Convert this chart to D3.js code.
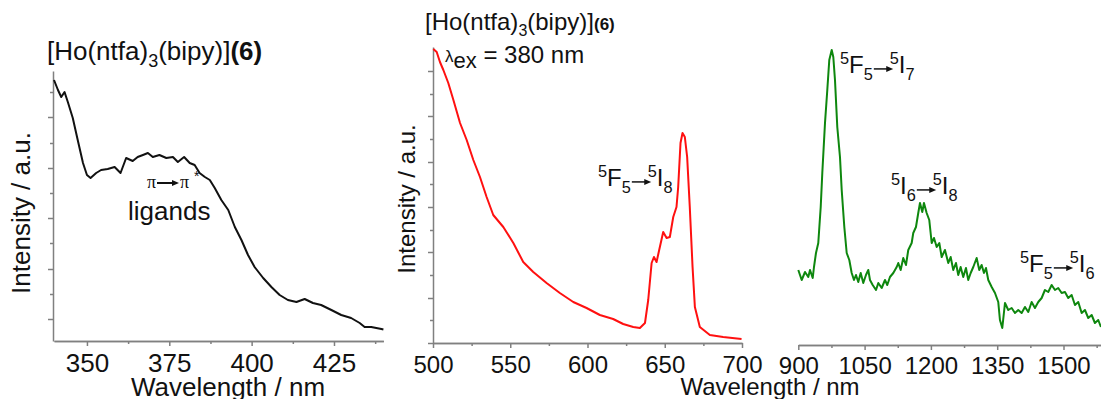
<!DOCTYPE html>
<html>
<head>
<meta charset="utf-8">
<script src="https://cdn.jsdelivr.net/npm/d3@7"></script>
<style>
    body { margin: 0; background: #fff; }
    text { font-family: "Liberation Sans", Arial, sans-serif; fill: #111; }
    .axis path, .axis line { stroke: #808080; stroke-width: 1.5; }
</style>
</head>
<body>
<svg id="chart" width="1101" height="399"></svg>
<script>
    // excitation spectrum (left panel)
    var excWl  = [340, 341.2, 342.2, 343.2, 344.2, 345.7, 347.2, 348.8, 350, 351.1, 352.8, 354.3, 356.3, 358.4, 360.2, 361.9, 363.9, 365.4, 367, 368.5, 370, 372, 374.1, 376.1, 377.6, 379.5, 381.2, 382.7, 384.2, 385.8, 387.3, 388.8, 390.8, 392.9, 394.9, 396.9, 398.9, 400.9, 403.5, 406, 408.5, 411, 413.6, 416.1, 418.6, 421.1, 424.2, 427.2, 430.2, 432.8, 434.3, 436.3, 439.4, 440];
    var excInt = [261, 251, 244, 249, 239, 223, 201, 178, 166, 163, 168, 171, 172, 174, 168, 183, 180, 184, 186, 188, 184, 186, 183, 184, 179, 184, 178, 176, 168, 164, 161, 153, 141, 131, 114, 101, 86, 74, 63, 54, 46, 41, 39, 42, 38, 36, 31, 26, 23, 18, 14, 14, 12, 11.5];

    // visible emission (middle panel)
    var visWl  = [500.2, 502.4, 504.5, 506.7, 509.9, 513.2, 517.5, 521.8, 526.1, 530.4, 534.7, 539, 545.5, 552, 558.4, 564.9, 573.5, 582.1, 590.8, 599.4, 608, 616.6, 623.1, 629.6, 633.9, 637.2, 639.3, 641.5, 643, 644.7, 646.4, 649, 651.2, 653.3, 655.5, 657.6, 658.7, 660.2, 661.5, 663, 664.5, 666.2, 668, 669.5, 672.7, 679.2, 687.8, 699.7];
    var visInt = [294, 291, 281, 273, 260, 243, 220, 203, 183, 166, 146, 128, 116, 100, 81, 71, 60, 50, 41, 35, 28, 24, 19, 16, 15, 20, 43, 80, 86, 81, 93, 111, 105, 106, 126, 136, 156, 200, 210, 206, 186, 136, 76, 36, 16, 8, 6, 4];

    // NIR emission (right panel)
    var nirWl  = [900, 907.7, 915.2, 922.6, 926.5, 932.6, 935.5, 940, 945.2, 950.7, 954.3, 960.4, 965.6, 970.1, 975.6, 979.2, 983, 988.2, 994.3, 998.2, 1004.1, 1009.5, 1015.4, 1020.8, 1026, 1030.5, 1035.7, 1041.2, 1047, 1053.1, 1058.3, 1062.2, 1068.3, 1075.8, 1081, 1088.7, 1096.1, 1101.3, 1107.4, 1114.9, 1122.6, 1126.2, 1131.6, 1137.5, 1143.6, 1148.8, 1156.5, 1160.1, 1166.2, 1171.4, 1175.3, 1180.5, 1184.3, 1190.4, 1196.3, 1201.8, 1207, 1213.1, 1219, 1224.4, 1231.8, 1239.3, 1244.7, 1250.6, 1256.7, 1261.9, 1267.3, 1273.2, 1279.3, 1284.5, 1290, 1295.9, 1303.5, 1309.4, 1314.8, 1320.1, 1324.6, 1329.8, 1337.5, 1345, 1352.4, 1356.2, 1361.5, 1367.6, 1375, 1382.7, 1390.2, 1397.6, 1405.3, 1412.8, 1420.3, 1427.9, 1435.4, 1442.9, 1450.6, 1458, 1465.5, 1473.2, 1480.7, 1488.1, 1495.8, 1503.3, 1510.7, 1518.4, 1525.9, 1533.4, 1541.1, 1548.5, 1556, 1563.7, 1571.1, 1578.6, 1584.7];
    var nirInt = [75, 65, 73, 68, 75, 67, 78, 92, 102, 138, 172, 222, 255, 285, 295, 288, 265, 218, 188, 155, 118, 92, 85, 72, 65, 70, 63, 72, 62, 70, 75, 65, 60, 55, 62, 57, 65, 60, 68, 72, 78, 82, 75, 87, 80, 95, 102, 112, 118, 132, 142, 133, 142, 132, 125, 102, 107, 98, 102, 88, 95, 82, 88, 75, 82, 70, 78, 68, 77, 65, 72, 78, 87, 75, 80, 72, 77, 65, 58, 52, 43, 25, 17, 42, 35, 37, 32, 35, 32, 38, 33, 43, 37, 43, 47, 55, 53, 60, 55, 57, 52, 53, 47, 50, 40, 43, 32, 35, 27, 30, 22, 25, 18];

    // ticks
    var excMajor = [350, 375, 400, 425];
    var excMinor = [362.5, 387.5, 412.5, 437.5];
    var excYTicks = [22, 47, 72, 98, 123, 148, 173, 198, 224, 249];
    var visMajor = [500, 550, 600, 650, 700];
    var visMinor = [525, 575, 625, 675];
    var visYTicks = [0, 23, 45, 68, 91, 113, 136, 159, 181, 204, 227, 249, 272];
    var nirMajor = [900, 1050, 1200, 1350, 1500];
    var nirMinor = [975, 1125, 1275, 1425, 1575];

    var svg = d3.select("#chart");

    // scales
    var x1 = d3.scaleLinear().domain([340, 440]).range([54, 383.4]);
    var y1 = d3.scaleLinear().domain([0, 270]).range([341, 71]);
    var x2 = d3.scaleLinear().domain([500, 700]).range([433, 742]);
    var y2 = d3.scaleLinear().domain([0, 296]).range([343, 47]);
    var x3 = d3.scaleLinear().domain([900, 1600]).range([798.3, 1107.7]);
    var y3 = d3.scaleLinear().domain([0, 300]).range([345, 45]);

    function xAxis(x, yPos, major, minor, fs, pad) {
        svg.append("g").attr("class", "axis").attr("transform", "translate(0," + yPos + ")")
            .call(d3.axisBottom(x).tickValues(minor).tickFormat("").tickSize(3).tickSizeOuter(0));
        var g = svg.append("g").attr("class", "axis").attr("transform", "translate(0," + yPos + ")")
            .call(d3.axisBottom(x).tickValues(major).tickFormat(d3.format("d")).tickSize(5).tickSizeOuter(0).tickPadding(pad));
        g.selectAll("text").style("font-size", fs + "px").style("font-family", "Liberation Sans, Arial, sans-serif").attr("fill", "#111");
    }

    function yAxis(y, xPos, ticks) {
        var g = svg.append("g").attr("class", "axis").attr("transform", "translate(" + xPos + ",0)")
            .call(d3.axisLeft(y).tickValues(ticks).tickFormat("").tickSizeOuter(0));
        g.selectAll(".tick line").attr("x2", (d, i) => i % 2 == 0 ? -5 : -3);
    }

    xAxis(x1, 341, excMajor, excMinor, 26, 8);
    yAxis(y1, 53, excYTicks);
    xAxis(x2, 343, visMajor, visMinor, 24, 8);
    yAxis(y2, 433, visYTicks);
    xAxis(x3, 345, nirMajor, nirMinor, 24, 7);

    function drawLine(wl, vals, x, y, col) {
        var line = d3.line().x(i => x(wl[i])).y(i => y(vals[i]));
        svg.append("path")
            .attr("d", line(d3.range(wl.length)))
            .attr("fill", "none")
            .attr("stroke", col)
            .attr("stroke-width", 2)
            .attr("stroke-linejoin", "round");
    }

    drawLine(excWl, excInt, x1, y1, "#111");
    drawLine(visWl, visInt, x2, y2, "#ff1010");
    drawLine(nirWl, nirInt, x3, y3, "#0e870e");

    // arrow with filled head
    function arrow(xa, xb, yy, w) {
        svg.append("line").attr("x1", xa).attr("x2", xb - 5).attr("y1", yy).attr("y2", yy)
            .attr("stroke", "#111").attr("stroke-width", w);
        svg.append("path").attr("d", "M" + (xb - 7) + "," + (yy - 3) + "L" + xb + "," + yy + "L" + (xb - 7) + "," + (yy + 3) + "Z")
            .attr("fill", "#111");
    }

    // term symbol label like 5F5 -> 5I8
    function transLabel(x, y, size, parts) {
        var cx = x;
        function piece(t, fs, dy) {
            var el = svg.append("text").attr("x", cx).attr("y", y + dy).style("font-size", fs + "px").text(t);
            cx += el.node().getComputedTextLength();
        }
        var small = size * 0.68;
        piece(parts[0], small, -size * 0.38);
        piece(parts[1], size, 0);
        piece(parts[2], small, size * 0.3);
        var a0 = cx + 1, a1 = cx + size * 0.85;
        arrow(a0, a1, y - size * 0.17, 1.5);
        cx = a1 - size * 0.15;
        piece(parts[3], small, -size * 0.38);
        piece(parts[4], size, 0);
        piece(parts[5], small, size * 0.3);
    }

    // left panel texts
    var t1 = svg.append("text").attr("x", 47).attr("y", 60).style("font-size", "26px");
    t1.append("tspan").text("[Ho(ntfa)");
    t1.append("tspan").attr("dy", 7).style("font-size", "18px").text("3");
    t1.append("tspan").attr("dy", -7).text("(bipy)]");
    t1.append("tspan").style("font-weight", "bold").text("(6)");

    svg.append("text").attr("transform", "translate(30,213) rotate(-90)").attr("text-anchor", "middle")
        .style("font-size", "26px").text("Intensity / a.u.");
    svg.append("text").attr("x", 228).attr("y", 396).attr("text-anchor", "middle")
        .style("font-size", "26px").text("Wavelength / nm");

    var pi = svg.append("text").attr("x", 147).attr("y", 188).style("font-size", "18px").style("font-family", "Liberation Serif, serif");
    pi.text("\u03c0");
    arrow(157, 179, 183, 2);
    svg.append("text").attr("x", 180).attr("y", 188).style("font-size", "18px").style("font-family", "Liberation Serif, serif").text("\u03c0");
    svg.append("text").attr("x", 194).attr("y", 181).style("font-size", "14px").text("*");
    svg.append("text").attr("x", 128).attr("y", 220).style("font-size", "26px").text("ligands");

    // middle panel texts
    var t2 = svg.append("text").attr("x", 425).attr("y", 30).style("font-size", "24px");
    t2.append("tspan").text("[Ho(ntfa)");
    t2.append("tspan").attr("dy", 6).style("font-size", "16px").text("3");
    t2.append("tspan").attr("dy", -6).text("(bipy)]");
    t2.append("tspan").style("font-weight", "bold").style("font-size", "17px").text("(6)");

    var t3 = svg.append("text").attr("x", 445).attr("y", 62).style("font-size", "24px");
    t3.append("tspan").style("font-size", "17px").text("\u03bb");
    t3.append("tspan").attr("dy", 6).style("font-size", "22px").text("ex");
    t3.append("tspan").attr("dy", -5).text(" = 380 nm");

    svg.append("text").attr("transform", "translate(415,199) rotate(-90)").attr("text-anchor", "middle")
        .style("font-size", "24px").text("Intensity / a.u.");
    svg.append("text").attr("x", 770).attr("y", 395).attr("text-anchor", "middle")
        .style("font-size", "24px").text("Wavelength / nm");

    transLabel(598, 186, 24, ["5", "F", "5", "5", "I", "8"]);

    // right panel texts
    transLabel(840, 73, 24, ["5", "F", "5", "5", "I", "7"]);
    transLabel(891, 194, 24, ["5", "I", "6", "5", "I", "8"]);
    transLabel(1020, 272, 24, ["5", "F", "5", "5", "I", "6"]);
</script>
</body>
</html>
